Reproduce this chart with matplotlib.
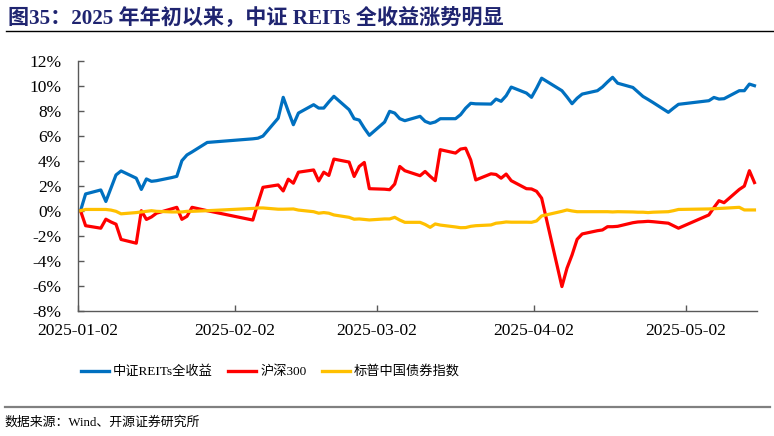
import matplotlib
matplotlib.use("Agg")
import matplotlib.pyplot as plt
import matplotlib.dates as mdates
import pandas as pd
from matplotlib.lines import Line2D

dates = [
    "2025-01-02", "2025-01-03", "2025-01-06", "2025-01-07", "2025-01-08", "2025-01-09", "2025-01-10",
    "2025-01-13", "2025-01-14", "2025-01-15", "2025-01-16", "2025-01-17",
    "2025-01-20", "2025-01-21", "2025-01-22", "2025-01-23", "2025-01-24", "2025-01-27",
    "2025-02-05", "2025-02-06", "2025-02-07",
    "2025-02-10", "2025-02-11", "2025-02-12", "2025-02-13", "2025-02-14",
    "2025-02-17", "2025-02-18", "2025-02-19", "2025-02-20", "2025-02-21",
    "2025-02-24", "2025-02-25", "2025-02-26", "2025-02-27", "2025-02-28",
    "2025-03-03", "2025-03-04", "2025-03-05", "2025-03-06", "2025-03-07",
    "2025-03-10", "2025-03-11", "2025-03-12", "2025-03-13", "2025-03-14",
    "2025-03-17", "2025-03-18", "2025-03-19", "2025-03-20", "2025-03-21",
    "2025-03-24", "2025-03-25", "2025-03-26", "2025-03-27", "2025-03-28",
    "2025-03-31", "2025-04-01", "2025-04-02", "2025-04-03",
    "2025-04-07", "2025-04-08", "2025-04-09", "2025-04-10", "2025-04-11",
    "2025-04-14", "2025-04-15", "2025-04-16", "2025-04-17", "2025-04-18",
    "2025-04-21", "2025-04-22", "2025-04-23", "2025-04-24", "2025-04-25",
    "2025-04-28", "2025-04-29", "2025-04-30",
    "2025-05-06", "2025-05-07", "2025-05-08", "2025-05-09",
    "2025-05-12", "2025-05-13", "2025-05-14", "2025-05-15",
]

reits = [
    0.00, 1.34, 1.66, 0.74, 1.80, 2.86, 3.18,
    2.60, 1.70, 2.54, 2.35, 2.40,
    2.65, 2.75, 4.00, 4.46, 4.70, 5.46,
    5.75, 5.80, 5.97,
    7.40, 9.07, 7.95, 6.88, 7.81,
    8.48, 8.21, 8.21, 8.70, 9.15,
    8.08, 7.36, 7.25, 6.60, 6.03,
    7.09, 7.95, 7.81, 7.36, 7.20,
    7.55, 7.15, 6.99, 7.10, 7.36,
    7.36, 7.68, 8.20, 8.59, 8.55,
    8.53, 8.93, 8.75, 9.20, 9.89,
    9.41, 9.07, 9.80, 10.60,
    9.60, 9.10, 8.56, 9.00, 9.33,
    9.60, 9.90, 10.30, 10.67, 10.20,
    9.86, 9.50, 9.14, 8.90, 8.65,
    7.87, 8.20, 8.51,
    8.80, 9.06, 8.93, 8.96,
    9.60, 9.60, 10.13, 10.00,
]

hs300 = [
    0.00, -1.20, -1.40, -0.68, -0.90, -1.08, -2.30,
    -2.60, 0.00, -0.70, -0.50, -0.20,
    0.15, 0.27, -0.69, -0.45, 0.27, 0.00,
    -0.75, 0.60, 1.87,
    2.06, 1.58, 2.52, 2.20, 3.08,
    3.26, 2.38, 3.08, 2.82, 4.13,
    3.89, 2.74, 3.54, 3.86, 1.76,
    1.72, 1.68, 2.13, 3.54, 3.20,
    2.80, 3.14, 2.75, 2.40, 4.88,
    4.61, 4.93, 5.00, 4.06, 2.46,
    2.95, 2.90, 2.60, 2.93, 2.40,
    1.76, 1.74, 1.55, 1.00,
    -6.07, -4.60, -3.54, -2.29, -1.86,
    -1.60, -1.54, -1.28, -1.28, -1.25,
    -0.96, -0.90, -0.88, -0.85, -0.88,
    -1.00, -1.20, -1.40,
    -0.34, 0.25, 0.80, 0.64,
    1.70, 1.97, 3.20, 2.25,
]

bond = [
    0.00, 0.10, 0.10, 0.10, 0.05, -0.05, -0.25,
    -0.15, -0.10, -0.05, 0.00, -0.05,
    -0.10, -0.10, -0.10, -0.05, -0.05, 0.00,
    0.18, 0.22, 0.22,
    0.12, 0.12, 0.13, 0.14, 0.05,
    -0.08, -0.20, -0.15, -0.20, -0.34,
    -0.53, -0.68, -0.66, -0.70, -0.74,
    -0.66, -0.66, -0.53, -0.75, -0.93,
    -0.93, -1.10, -1.33, -1.06, -1.15,
    -1.30, -1.36, -1.35, -1.25, -1.20,
    -1.14, -1.00, -0.96, -0.90, -0.92,
    -0.92, -0.93, -0.82, -0.42,
    -0.05, 0.06, -0.02, -0.08, -0.08,
    -0.08, -0.08, -0.08, -0.10, -0.08,
    -0.10, -0.12, -0.12, -0.15, -0.12,
    -0.08, 0.00, 0.10,
    0.14, 0.16, 0.18, 0.20,
    0.27, 0.06, 0.06, 0.06,
]

series_names = ["中证REITs全收益", "沪深300", "标普中国债券指数"]
series_colors = ["#0070C0", "#FF0000", "#FFC000"]
tick_dates = ["2025-01-02", "2025-02-02", "2025-03-02", "2025-04-02", "2025-05-02"]
y_ticks = list(range(-8, 13, 2))

LATIN = "Liberation Serif"
CJK = "Noto Sans CJK SC"
FAM = [LATIN, CJK, "DejaVu Sans"]
plt.rcParams["font.family"] = FAM

W, H = 774, 436
fig = plt.figure(figsize=(W / 100, H / 100), dpi=100)
fig.patch.set_facecolor("white")

ax = fig.add_axes([78 / W, 1 - 310.7 / H, (757 - 78) / W, (310.7 - 60.7) / H])

x = pd.to_datetime(pd.Series(dates)) + pd.Timedelta(hours=12)
for vals, name, col in zip([reits, hs300, bond], series_names, series_colors):
    ax.plot(x, vals, color=col, lw=2.3, label=name, solid_joinstyle="round")

ax.set_ylim(-8, 12)
ax.set_yticks(y_ticks)
ax.set_yticklabels([f"{v}%" for v in y_ticks])
ax.set_xlim(pd.Timestamp("2025-01-02"), pd.Timestamp("2025-05-16"))
ax.set_xticks(pd.to_datetime(tick_dates))
ax.xaxis.set_major_formatter(mdates.DateFormatter("%Y-%m-%d"))

for s in ["top", "right"]:
    ax.spines[s].set_visible(False)
for s in ["left", "bottom"]:
    ax.spines[s].set_color("#595959")
    ax.spines[s].set_linewidth(1.0)

ax.tick_params(axis="both", direction="in", length=4, width=1, color="#595959",
               labelsize=12.5, labelcolor="black")
ax.tick_params(axis="y", pad=12)
ax.tick_params(axis="x", pad=9)
for lab in ax.get_xticklabels() + ax.get_yticklabels():
    lab.set_family(LATIN)

# Title
fig.text(8 / W, 1 - 18 / H, "图35：2025 年年初以来，中证 REITs 全收益涨势明显",
         fontsize=15.2, fontweight="bold", color="#1F2470", va="center", ha="left",
         family=FAM)
fig.add_artist(Line2D([6 / W, 1.0], [1 - 31 / H, 1 - 31 / H], color="black", lw=1.0))

# Legend
handles, labels = ax.get_legend_handles_labels()
leg = fig.legend(handles, labels, loc="center", bbox_to_anchor=(270.5 / W, 1 - 371.7 / H),
                 ncol=3, frameon=False, prop={"family": FAM, "size": 9.5},
                 handlelength=2.1, handletextpad=0.3, columnspacing=1.2)
for ln in leg.get_lines():
    ln.set_linewidth(2.4)

# Bottom rule and source text
fig.add_artist(Line2D([5 / W, 770 / W], [1 - 406.7 / H, 1 - 406.7 / H], color="#808080", lw=1.6))
fig.text(4 / W, 1 - 422.7 / H, "数据来源：Wind、开源证券研究所", fontsize=9.3,
         va="center", ha="left", family=FAM)

fig.savefig("out.png", dpi=100)
